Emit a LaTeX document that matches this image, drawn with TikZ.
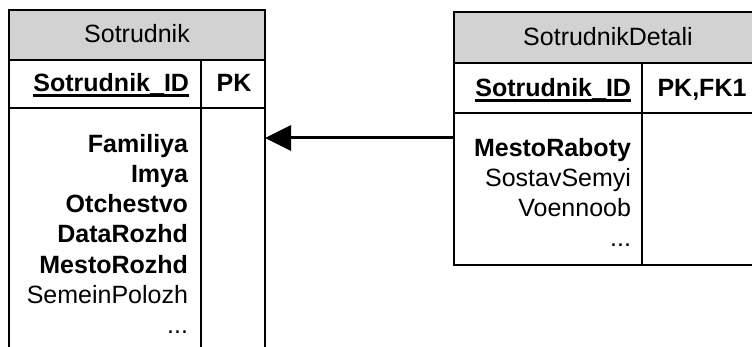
\documentclass[tikz,border=0pt]{standalone}
\usepackage{fontspec}
\setmainfont{Liberation Sans}
\usetikzlibrary{arrows.meta,calc}
\definecolor{hdrgray}{RGB}{210,210,210}
\begin{document}
\begin{tikzpicture}[x=1pt,y=-1pt,
  cell/.style={draw=black, line width=1.6pt, inner sep=0pt, outer sep=0pt, anchor=north west},
  hdr/.style={cell, fill=hdrgray},
  txt/.style={inner sep=0pt, outer sep=0pt, font=\fontsize{25}{30}\selectfont},
  btxt/.style={txt, font=\fontsize{25}{30}\selectfont\bfseries},
  ulinestyle/.style={line width=3pt},
  fk/.style={line width=3pt, -{Triangle[length=26pt,width=25pt]}}
]
\useasboundingbox (0,0) rectangle (752,347);
\clip (0,0) rectangle (752,347);

% ---- Sotrudnik ----
\node[hdr, minimum width=256pt, minimum height=50pt] (sothdr) at (9,10) {};
\node[cell, minimum width=192pt, minimum height=48pt] (sotkey) at (9,60) {};
\node[cell, minimum width=64pt, minimum height=48pt] (sotkeyt) at (201,60) {};
\node[cell, minimum width=192pt, minimum height=280pt] (sotbody) at (9,108) {};
\node[cell, minimum width=64pt, minimum height=280pt] (sotbodyt) at (201,108) {};

\node[txt, anchor=base] (sottitle) at (137,43) {Sotrudnik};
\node[btxt, anchor=base east] (sotid) at (189,92) {Sotrudnik\_ID};
\draw[ulinestyle] ($(sotid.base west)+(0,3.2)$) -- ($(sotid.base east)+(0,3.2)$);
\node[btxt, anchor=base] (sotpk) at (234,92) {PK};

\node[btxt, anchor=base east] (f1) at (188,153) {Familiya};
\node[btxt, anchor=base east] (f2) at (188,183) {Imya};
\node[btxt, anchor=base east] (f3) at (188,213) {Otchestvo};
\node[btxt, anchor=base east] (f4) at (188,243) {DataRozhd};
\node[btxt, anchor=base east] (f5) at (188,273) {MestoRozhd};
\node[txt, anchor=base east] (f6) at (188,303) {SemeinPolozh};
\node[txt, anchor=base east] (f7) at (188,333) {...};

% ---- SotrudnikDetali ----
\node[hdr, minimum width=308pt, minimum height=51pt] (dethdr) at (454,12) {};
\node[cell, minimum width=188pt, minimum height=50pt] (detkey) at (454,63) {};
\node[cell, minimum width=120pt, minimum height=50pt] (detkeyt) at (642,63) {};
\node[cell, minimum width=188pt, minimum height=152pt] (detbody) at (454,113) {};
\node[cell, minimum width=120pt, minimum height=152pt] (detbodyt) at (642,113) {};

\node[txt, anchor=base] (dettitle) at (608,46) {SotrudnikDetali};
\node[btxt, anchor=base east] (detid) at (631,97) {Sotrudnik\_ID};
\draw[ulinestyle] ($(detid.base west)+(0,3.2)$) -- ($(detid.base east)+(0,3.2)$);
\node[btxt, anchor=base] (detpk) at (702,97) {PK,FK1};

\node[btxt, anchor=base east] (d1) at (631,157) {MestoRaboty};
\node[txt, anchor=base east] (d2) at (631,187) {SostavSemyi};
\node[txt, anchor=base east] (d3) at (631,217) {Voennoob};
\node[txt, anchor=base east] (d4) at (631,247) {...};

% ---- relationship ----
\path (detbody.north west) ++(0,25) coordinate (relstart);
\draw[fk] (relstart) -- (sotbodyt.east |- relstart);
\end{tikzpicture}
\end{document}
